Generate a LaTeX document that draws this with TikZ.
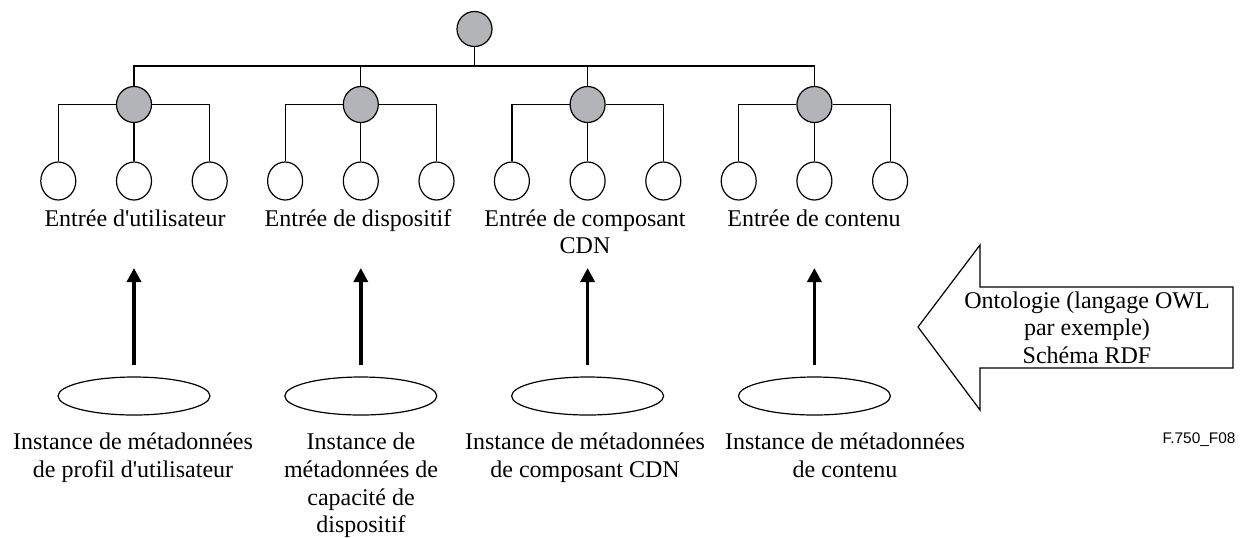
\documentclass[tikz,border=0pt]{standalone}
\usepackage{fontspec}
\setmainfont{Liberation Serif}[Ligatures=TeXOff]
\newfontfamily\figidfont{Liberation Sans}
\usetikzlibrary{arrows.meta,shapes.geometric}
\definecolor{nodegray}{RGB}{179,180,183}
\tikzstyle{rootnode} = [circle,draw,fill=nodegray,minimum size=17.5pt,inner sep=0pt]
\tikzstyle{graynode} = [ellipse,draw,fill=nodegray,minimum width=17.5pt,minimum height=18pt,inner sep=0pt]
\tikzstyle{leafnode} = [ellipse,draw,fill=white,minimum width=17.5pt,minimum height=19pt,inner sep=0pt]
\tikzstyle{instnode} = [ellipse,draw,minimum width=76pt,minimum height=19pt,inner sep=0pt]
\tikzstyle{lbl} = [inner sep=0pt,anchor=north,align=center,font=\fontsize{12}{13.8}\selectfont]
\tikzstyle{uparrow} = [line width=1.7pt,-{Triangle[width=7pt,length=7pt]},shorten <=5.5pt]
\newcommand{\subtree}[2]{
	\node(#1) at (#2,104.5) [graynode] {};
	\node(#1a) at (#2-75.7,181) [leafnode] {};
	\node(#1b) at (#2,181) [leafnode] {};
	\node(#1c) at (#2+75.7,181) [leafnode] {};
	\draw (#1.west) -| (#1a);
	\draw (#1) -- (#1b);
	\draw (#1.east) -| (#1c);
}
\newcommand{\instance}[2]{
	\node(#1) at (#2,396) [instnode] {};
	\draw[uparrow] (#1) -- (#1 |- tipline);
}

\begin{document}
\begin{tikzpicture}[x=0.5pt,y=-0.5pt,line width=0.6pt]
	\useasboundingbox (0,0) rectangle (1240,537);
	
	\node(root) at (474.5,29) [rootnode] {};
	\coordinate(bar) at (474.5,66);
	\coordinate(tipline) at (0,268);
	
	\subtree{g1}{134};
	\subtree{g2}{360.8};
	\subtree{g3}{587.6};
	\subtree{g4}{814.4};
	
	\draw (root) -- (bar);
	\draw (g1) |- (bar) -| (g4);
	\draw (g2) -- (g2 |- bar);
	\draw (g3) -- (g3 |- bar);
	
	\node(l1) at (135,206.4) [lbl] {\strut Entrée d'utilisateur};
	\node(l2) at (358,206.4) [lbl] {\strut Entrée de dispositif};
	\node(l3) at (585,206.4) [lbl] {\strut Entrée de composant\\CDN};
	\node(l4) at (814,206.4) [lbl] {\strut Entrée de contenu};
	
	\instance{e1}{134};
	\instance{e2}{360.8};
	\instance{e3}{587.6};
	\instance{e4}{814.4};
	
	\node(d1) at (133,430) [lbl] {\strut Instance de métadonnées\\de profil d'utilisateur};
	\node(d2) at (361,430) [lbl] {\strut Instance de\\métadonnées de\\capacité de\\dispositif};
	\node(d3) at (585,430) [lbl] {\strut Instance de métadonnées\\de composant CDN};
	\node(d4) at (845,430) [lbl] {\strut Instance de métadonnées\\de contenu};
	
	\draw (918,327) -- (980,245) -- (980,287) -- (1233,287) -- (1233,368) -- (980,368) -- (980,410) -- cycle;
	\node(onto) at (1087,288.4) [lbl] {\strut Ontologie (langage OWL\\par exemple)\\Schéma RDF};
	
	\node(figid) at (1199,440) [inner sep=0pt,font=\figidfont\fontsize{7.7}{9}\selectfont] {F.750\_F08};
\end{tikzpicture}
\end{document}
